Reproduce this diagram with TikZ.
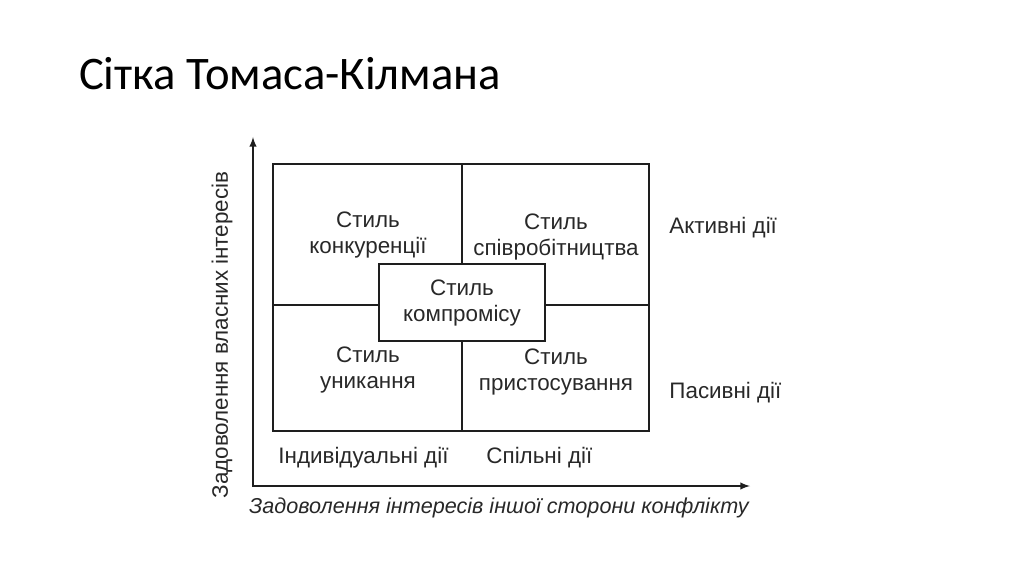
\documentclass[tikz,border=0pt]{standalone}
\usepackage{fontspec}
\setmainfont{Liberation Sans}
\newfontfamily\titlefont{Carlito}
\usepackage{tikz}
\usetikzlibrary{arrows}
\usetikzlibrary{positioning}

\definecolor{ink}{RGB}{30,30,30}
\definecolor{txt}{RGB}{40,40,40}

\begin{document}
\begin{tikzpicture}[x = 0.75pt, y = -0.75pt, line width = 1.5pt, draw = ink,
		cell/.style = {align = center, text = txt, font = \fontsize{16.8}{19.5}\selectfont},
		side/.style = {anchor = west, text = txt, font = \fontsize{16.8}{19.5}\selectfont}]
			%\draw[help lines] (0,0) grid[step = 50] (1024,574);
			\useasboundingbox (0, 0) rectangle (1024, 574);
			\node[anchor = base west, inner sep = 0pt, text = black, font = \titlefont\fontsize{35}{42}\selectfont] (title) at (78, 90) {Сітка Томаса-Кілмана};
			
			\coordinate (origin) at (253, 486);
			\coordinate (ytip) at (253, 137);
			\coordinate (xtip) at (750, 486);
			\draw[latex-latex] (ytip) -- (origin) -- (xtip);
			
			\draw (273, 164) rectangle (649, 431);
			\draw (462, 164) -- (462, 431);
			\draw (273, 305) -- (649, 305);
			\draw[fill = white] (379, 264) rectangle (545, 341);
			
			\node[cell] (konk) at (368, 235) {Стиль\\конкуренції};
			\node[cell] (spivr) at (556, 237) {Стиль\\співробітництва};
			\node[cell] (kompr) at (462, 303) {Стиль\\компромісу};
			\node[cell] (unyk) at (368, 370) {Стиль\\уникання};
			\node[cell] (prist) at (556, 372) {Стиль\\пристосування};
			
			\node[side] (aktyv) at (664, 228) {Активні дії};
			\node[side] (pasyv) at (664, 393) {Пасивні дії};
			\node[side] (indyv) at (273, 458) {Індивідуальні дії};
			\node[side] (spiln) at (481, 458) {Спільні дії};
			
			\node[cell, font = \itshape\fontsize{16.2}{19.5}\selectfont] (xlabel) at (499, 508) {Задоволення інтересів іншої сторони конфлікту};
			\node[cell, rotate = 90] (ylabel) at (222, 335) {Задоволення власних інтересів};
		\end{tikzpicture}
\end{document}
